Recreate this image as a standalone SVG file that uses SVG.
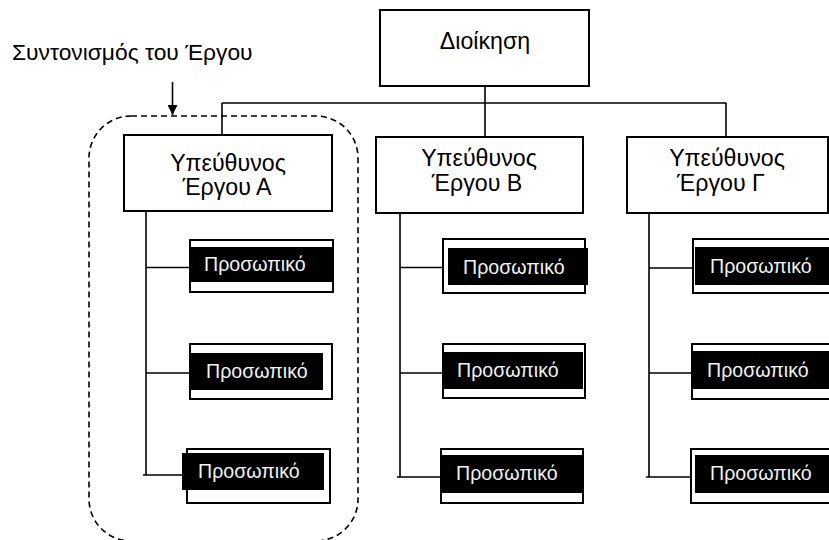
<svg xmlns="http://www.w3.org/2000/svg" width="829" height="540" viewBox="0 0 829 540">
  <style>
    .box { fill: #ffffff; stroke: #000000; stroke-width: 2; }
    .bar { fill: #000000; }
    .wire { fill: none; stroke: #000000; stroke-width: 1.6; }
    .dash { fill: none; stroke: #000000; stroke-width: 1.6; stroke-dasharray: 6 4; }
    .t { font-family: "Liberation Sans", Arial, sans-serif; fill: #000000; }
    .big { font-size: 22.8px; }
    .mid { font-size: 23.2px; text-anchor: middle; }
    .staff { font-family: "Liberation Sans", Arial, sans-serif; font-size: 19.6px; fill: #f2f2f2; }
  </style>
  <defs>
    <marker id="arrowhead" viewBox="0 0 10 10" refX="10" refY="5" markerWidth="10" markerHeight="10" markerUnits="userSpaceOnUse" orient="auto">
      <path d="M0,0 L10,5 L0,10 z" fill="#000000"/>
    </marker>
  </defs>
  <rect width="829" height="540" fill="#ffffff"/>

  <!-- coordination boundary and its label -->
  <g id="coordination">
    <rect class="dash" x="89" y="116" width="269" height="425" rx="42" ry="42"/>
    <text class="t big" x="12" y="60">Συντονισμός του Έργου</text>
    <line class="wire" x1="172.5" y1="82" x2="172.5" y2="115" marker-end="url(#arrowhead)"/>
  </g>

  <!-- connectors -->
  <g id="connectors">
    <path class="wire" d="M485,86 V137 M222,103 H726 M222,103 V135 M726,103 V137"/>
    <path class="wire" d="M146,211 V475 M146,267.5 H190 M146,373 H190 M143,475 H182"/>
    <path class="wire" d="M400,213 V477 M400,267.5 H443 M400,373 H443 M397,477 H441"/>
    <path class="wire" d="M649,213 V477 M649,268 H693 M649,373 H692 M646,477 H691"/>
  </g>

  <g id="management">
    <rect class="box" x="380" y="10" width="209" height="76"/>
    <text class="t mid" x="485" y="49">Διοίκηση</text>
  </g>

  <g id="lead-a">
    <rect class="box" x="124" y="135" width="208" height="76"/>
    <text class="t mid" x="228" y="171">Υπεύθυνος</text>
    <text class="t mid" x="227" y="195">Έργου Α</text>
  </g>
  <g id="lead-b">
    <rect class="box" x="376" y="137" width="207" height="76"/>
    <text class="t mid" x="479" y="166">Υπεύθυνος</text>
    <text class="t mid" x="477" y="191">Έργου Β</text>
  </g>
  <g id="lead-c">
    <rect class="box" x="627" y="137" width="201" height="76"/>
    <text class="t mid" x="727" y="166">Υπεύθυνος</text>
    <text class="t mid" x="721" y="191">Έργου Γ</text>
  </g>

  <!-- staff under lead A -->
  <g id="staff-a1">
    <rect class="box" x="190" y="240" width="143" height="52"/>
    <rect class="bar" x="190" y="247" width="142" height="35"/>
    <text class="staff" x="204" y="271">Προσωπικό</text>
  </g>
  <g id="staff-a2">
    <rect class="box" x="190" y="344" width="142" height="55"/>
    <rect class="bar" x="191" y="353" width="132" height="37"/>
    <text class="staff" x="206" y="378">Προσωπικό</text>
  </g>
  <g id="staff-a3">
    <rect class="box" x="187" y="449" width="143" height="54"/>
    <rect class="bar" x="182" y="453" width="142" height="37"/>
    <text class="staff" x="198" y="478">Προσωπικό</text>
  </g>

  <!-- staff under lead B -->
  <g id="staff-b1">
    <rect class="box" x="443" y="239" width="142" height="54"/>
    <rect class="bar" x="448" y="248" width="140" height="37"/>
    <text class="staff" x="463" y="274">Προσωπικό</text>
  </g>
  <g id="staff-b2">
    <rect class="box" x="443" y="344" width="142" height="54"/>
    <rect class="bar" x="443" y="352" width="140" height="37"/>
    <text class="staff" x="457" y="377">Προσωπικό</text>
  </g>
  <g id="staff-b3">
    <rect class="box" x="441" y="449" width="142" height="54"/>
    <rect class="bar" x="441" y="455" width="142" height="38"/>
    <text class="staff" x="456" y="480">Προσωπικό</text>
  </g>

  <!-- staff under lead C -->
  <g id="staff-c1">
    <rect class="box" x="693" y="239" width="142" height="54"/>
    <rect class="bar" x="695" y="247" width="140" height="38"/>
    <text class="staff" x="710" y="273">Προσωπικό</text>
  </g>
  <g id="staff-c2">
    <rect class="box" x="692" y="344" width="142" height="55"/>
    <rect class="bar" x="692" y="351" width="140" height="38"/>
    <text class="staff" x="707" y="377">Προσωπικό</text>
  </g>
  <g id="staff-c3">
    <rect class="box" x="691" y="449" width="142" height="54"/>
    <rect class="bar" x="695" y="455" width="140" height="38"/>
    <text class="staff" x="710" y="480">Προσωπικό</text>
  </g>
</svg>
